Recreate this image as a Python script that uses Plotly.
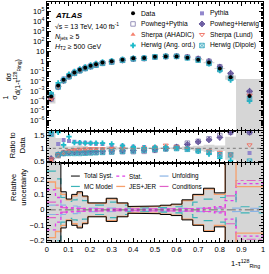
import numpy as np
import plotly.graph_objects as go

# ---------------- values ----------------
bin_edges = [0, 0.04, 0.065, 0.09, 0.115, 0.14, 0.165, 0.19, 0.215, 0.24, 0.275,
             0.325, 0.375, 0.425, 0.475, 0.525, 0.575, 0.625, 0.675, 0.725, 0.775,
             0.825, 0.875, 1.0]

data_xsec = [2.8e-4, 3.5e-3, 0.014, 0.035, 0.076, 0.14, 0.23, 0.35, 0.5, 0.74,
             1.0, 1.45, 2.0, 2.2, 2.9, 3.15, 3.15, 2.3, 1.45, 0.74, 0.19, 0.025, 3.2e-4]

ratio_pythia = [1.55, 1.17, 1.32, 1.28, 1.25, 1.22, 1.22, 1.2, 1.18, 1.17, 1.13, 1.1,
                1.06, 1.05, 1.04, 1.02, 1.0, 0.97, 0.93, 0.82, 0.78, 0.75, 0.82]
ratio_powheg_pythia = [0.55, 0.72, 0.8, 0.83, 0.84, 0.84, 0.85, 0.85, 0.85, 0.86, 0.86, 0.87,
                       0.87, 0.88, 0.92, 0.98, 1.05, 1.2, 1.27, 1.37, 1.5, 1.62, 2.0]
ratio_powheg_herwig = [0.6, 0.75, 0.82, 0.85, 0.86, 0.87, 0.87, 0.88, 0.88, 0.89, 0.9, 0.9,
                       0.92, 0.93, 0.95, 1.0, 1.05, 1.15, 1.25, 1.33, 1.42, 2.5, 3.0]
ratio_sherpa_ahadic = [0.52, 0.68, 0.78, 0.88, 0.92, 0.93, 0.95, 0.96, 0.96, 0.97, 0.97, 0.98,
                       0.99, 1.0, 1.02, 1.08, 1.02, 0.98, 0.92, 0.88, 0.82, 0.72, 0.4]
ratio_sherpa_lund = [0.58, 0.75, 0.85, 0.9, 0.94, 0.96, 0.97, 0.98, 0.98, 0.98, 0.99, 1.0,
                     1.0, 1.01, 1.04, 1.12, 1.06, 1.0, 0.95, 0.9, 0.84, 0.78, 1.13]
ratio_herwig_ang = [1.9, 1.9, 1.13, 1.45, 1.22, 1.22, 1.2, 1.2, 1.2, 1.2, 1.17, 1.1,
                    1.05, 1.02, 1.04, 1.04, 1.0, 0.97, 0.88, 0.78, 0.62, 0.52, 0.3]
ratio_herwig_dipole = [1.55, 0.75, 0.8, 0.8, 0.8, 0.8, 0.81, 0.82, 0.83, 0.84, 0.86, 0.88,
                       0.9, 0.93, 0.96, 0.98, 0.99, 0.96, 0.9, 0.84, 0.75, 0.74, 0.5]

unc_total = [0.8, 0.4, 0.117, 0.07, 0.1, 0.117, 0.09, 0.045, 0.045, 0.045, 0.075, 0.045,
             0.022, 0.022, 0.025, 0.03, 0.037, 0.065, 0.1, 0.14, 0.11, 0.45, 50.0]
unc_stat = [0.13, 0.08, 0.02, 0.015, 0.012, 0.01, 0.008, 0.007, 0.006, 0.006, 0.005, 0.004,
            0.004, 0.004, 0.004, 0.004, 0.005, 0.006, 0.008, 0.012, 0.02, 0.06, 0.17]
unc_unfolding = [0.03, 0.055, 0.03, 0.02, 0.025, 0.02, 0.018, 0.012, 0.01, 0.01, 0.012, 0.01,
                 0.006, 0.006, 0.006, 0.008, 0.008, 0.01, 0.012, 0.01, 0.012, 0.01, 0.01]
unc_mc_model = [0.25, 0.2, 0.08, 0.055, 0.065, 0.08, 0.06, 0.03, 0.03, 0.03, 0.05, 0.03,
                0.012, 0.012, 0.012, 0.015, 0.02, 0.03, 0.05, 0.07, 0.08, 0.1, 0.02]
unc_jes_jer = [0.18, 0.14, 0.1, 0.065, 0.09, 0.11, 0.085, 0.042, 0.042, 0.042, 0.07, 0.042,
               0.02, 0.02, 0.022, 0.027, 0.034, 0.06, 0.095, 0.135, 0.1, 0.32, 0.15]
unc_conditions = [0.05, 0.03, 0.015, 0.01, 0.01, 0.01, 0.008, 0.006, 0.006, 0.006, 0.006, 0.005,
                  0.005, 0.005, 0.005, 0.005, 0.005, 0.006, 0.008, 0.01, 0.012, 0.09, 0.19]

top_ticks = [1e-6, 1e-5, 1e-4, 1e-3, 1e-2, 1e-1, 1, 10, 1e2, 1e3, 1e4, 1e5]
top_ticktext = ["10<sup>−6</sup>", "10<sup>−5</sup>", "10<sup>−4</sup>", "10<sup>−3</sup>",
                "10<sup>−2</sup>", "10<sup>−1</sup>", "1", "10", "10<sup>2</sup>",
                "10<sup>3</sup>", "10<sup>4</sup>", "10<sup>5</sup>"]

# ---------------- layout helpers ----------------
W, H = 269, 274
FONT = "Liberation Sans, Arial, sans-serif"
edges = np.array(bin_edges)
centers = 0.5 * (edges[:-1] + edges[1:])
dv = np.array(data_xsec)


def pxx(p):
    return p / W


def pyy(p):
    return 1 - p / H


def rects(lo, hi):
    xs, ys = [], []
    for i in range(len(lo)):
        x0, x1 = edges[i], edges[i + 1]
        xs += [x0, x1, x1, x0, x0, None]
        ys += [lo[i], lo[i], hi[i], hi[i], lo[i], None]
    return xs, ys


def steps(vals):
    return np.repeat(edges, 2)[1:-1], np.repeat(np.asarray(vals, float), 2)


fig = go.Figure()

GRAY = "#d6d6d6"
u = np.array(unc_total)
xs, ys = rects(np.maximum(dv * (1 - u), 1e-9), dv * (1 + u))
fig.add_trace(go.Scatter(x=xs, y=ys, fill="toself", fillcolor=GRAY, line=dict(width=0),
                         mode="lines", xaxis="x", yaxis="y", hoverinfo="skip"))
xs, ys = rects(1 - u, 1 + u)
fig.add_trace(go.Scatter(x=xs, y=ys, fill="toself", fillcolor=GRAY, line=dict(width=0),
                         mode="lines", xaxis="x2", yaxis="y2", hoverinfo="skip"))
xs, ys = rects(-u, u)
fig.add_trace(go.Scatter(x=xs, y=ys, fill="toself", fillcolor=GRAY, line=dict(width=0),
                         mode="lines", xaxis="x3", yaxis="y3", hoverinfo="skip"))

mc = [
    ("Pythia", ratio_pythia, dict(symbol="square", color="#9287cc", size=4)),
    ("Powheg+Pythia", ratio_powheg_pythia, dict(symbol="square-open", color="#8d88b4", size=4.5, line=dict(width=0.9))),
    ("Powheg+Herwig", ratio_powheg_herwig, dict(symbol="diamond-cross", color="#8a7cbc", size=4.5, line=dict(width=0.8, color="#5a4b92"))),
    ("Sherpa (AHADIC)", ratio_sherpa_ahadic, dict(symbol="triangle-up", color="#f5826f", size=4.5)),
    ("Sherpa (Lund)", ratio_sherpa_lund, dict(symbol="triangle-down-open", color="#ef6d5f", size=4.5, line=dict(width=0.9))),
    ("Herwig (Ang. ord.)", ratio_herwig_ang, dict(symbol="cross", color="#1bbac9", size=4.5)),
    ("Herwig (Dipole)", ratio_herwig_dipole, dict(symbol="square-x-open", color="#38a8be", size=4.5, line=dict(width=0.9))),
]

for name, r, mk in mc:
    r = np.array(r)
    fig.add_trace(go.Scatter(x=centers, y=dv * r, mode="markers", marker=mk,
                             xaxis="x", yaxis="y", name=name))
    fig.add_trace(go.Scatter(x=centers, y=np.minimum(r, 1.62), mode="markers", marker=mk,
                             xaxis="x2", yaxis="y2", name=name))

fig.add_trace(go.Scatter(x=centers, y=dv, mode="markers",
                         marker=dict(symbol="circle", color="black", size=4),
                         xaxis="x", yaxis="y", name="Data"))

comps = [
    ("Unfolding", unc_unfolding, dict(color="#8ab4e6", width=1.2, dash="dash")),
    ("Conditions", unc_conditions, dict(color="#e060c8", width=1.2, dash="dashdot")),
    ("Stat.", unc_stat, dict(color="#e040e8", width=1.3, dash="dot")),
    ("MC Model", unc_mc_model, dict(color="#3cb4b8", width=1.2, dash="dash")),
    ("JES+JER", unc_jes_jer, dict(color="#f7a06c", width=1.3)),
    ("Total Syst.", unc_total, dict(color="black", width=1)),
]
for name, vals, ln in comps:
    sx, sy = steps(vals)
    for sign in (1, -1):
        fig.add_trace(go.Scatter(x=sx, y=sign * sy, mode="lines", line=ln,
                                 xaxis="x3", yaxis="y3", name=name))

leg_top = [
    (133, 13.5, "Data", dict(symbol="circle", color="black", size=4)),
    (133, 24.2, "Powheg+Pythia", mc[1][2]),
    (133, 35.0, "Sherpa (AHADIC)", mc[3][2]),
    (133, 46.0, "Herwig (Ang. ord.)", mc[5][2]),
    (203, 13.5, "Pythia", mc[0][2]),
    (203, 24.2, "Powheg+Herwig", mc[2][2]),
    (203, 35.0, "Sherpa (Lund)", mc[4][2]),
    (203, 46.0, "Herwig (Dipole)", mc[6][2]),
]
annotations = []
for x, y, t, mk in leg_top:
    fig.add_trace(go.Scatter(x=[x], y=[y], mode="markers", marker=mk, xaxis="x4", yaxis="y4"))
    annotations.append(dict(x=pxx(x + 6), y=pyy(y), text=t, xref="paper", yref="paper",
                            showarrow=False, xanchor="left", yanchor="middle",
                            font=dict(size=6.7, family=FONT, color="black")))

leg_unc = [
    (70, 178, "Total Syst.", comps[5][2]),
    (116, 178, "Stat.", comps[2][2]),
    (160, 178, "Unfolding", comps[0][2]),
    (70, 188.5, "MC Model", comps[3][2]),
    (116, 188.5, "JES+JER", comps[4][2]),
    (160, 188.5, "Conditions", comps[1][2]),
]
for x, y, t, ln in leg_unc:
    fig.add_trace(go.Scatter(x=[x, x + 9], y=[y, y], mode="lines", line=ln, xaxis="x4", yaxis="y4"))
    annotations.append(dict(x=pxx(x + 11), y=pyy(y), text=t, xref="paper", yref="paper",
                            showarrow=False, xanchor="left", yanchor="middle",
                            font=dict(size=6.3, family=FONT, color="black")))

atl = [
    (15.5, "<b><i>ATLAS</i></b>", 8),
    (26.5, "√s = 13 TeV, 140 fb<sup>-1</sup>", 7),
    (37.5, "<i>N</i><sub>jets</sub> ≥ 5", 7),
    (48.0, "<i>H</i><sub>T2</sub> ≥ 500 GeV", 7),
]
for y, t, s in atl:
    annotations.append(dict(x=pxx(52), y=pyy(y), text=t, xref="paper", yref="paper",
                            showarrow=False, xanchor="left", yanchor="middle",
                            font=dict(size=s, family=FONT, color="black")))


def vtitle(x, y, text, size=7):
    annotations.append(dict(x=pxx(x), y=pyy(y), text=text, xref="paper", yref="paper",
                            showarrow=False, textangle=-90, xanchor="center", yanchor="middle",
                            font=dict(size=size, family=FONT, color="black")))


vtitle(8, 98, "1<br>σ", 7)
vtitle(12, 78, "dσ<br>d(1-τ<sup>128</sup><sub>Ring</sub>)", 7)
vtitle(16, 147, "Ratio to<br>Data", 7.5)
vtitle(17, 189, "Relative<br>uncertainty", 7.5)
annotations.append(dict(x=pxx(264), y=pyy(266), text="1-τ<sup>128</sup><sub>Ring</sub>",
                        xref="paper", yref="paper", showarrow=False, xanchor="right",
                        yanchor="middle", font=dict(size=7.5, family=FONT, color="black")))

shapes = [
    dict(type="line", xref="x2", yref="y2", x0=0, x1=1, y0=1, y1=1,
         line=dict(color="#8c8c8c", width=1.2, dash="dot")),
    dict(type="line", xref="x3", yref="y3", x0=0, x1=1, y0=0, y1=0,
         line=dict(color="#555555", width=0.8, dash="dashdot")),
]

xdom = [pxx(45.5), pxx(265)]
tick_common = dict(ticks="inside", ticklen=4, tickcolor="black", tickwidth=0.8,
                   showline=True, linecolor="black", linewidth=1, mirror="ticks",
                   showgrid=False, zeroline=False,
                   tickfont=dict(size=7.5, family=FONT, color="black"))


def xax(anchor, labels):
    d = dict(tick_common)
    d.update(domain=xdom, range=[0, 1], anchor=anchor, tickmode="array",
             tickvals=[i / 10 for i in range(11)],
             ticktext=["0", "0.1", "0.2", "0.3", "0.4", "0.5", "0.6", "0.7", "0.8", "0.9", "1"],
             showticklabels=labels,
             minor=dict(ticks="inside", ticklen=2, tickcolor="black", dtick=0.02, tick0=0))
    return d


minor_log = [k * 10.0 ** e for e in range(-7, 6) for k in range(2, 10)]

ya1 = dict(tick_common)
ya1.update(domain=[pyy(132), pyy(2)], type="log", range=[-7, 6], anchor="x",
           tickmode="array", tickvals=top_ticks, ticktext=top_ticktext,
           minor=dict(ticks="inside", ticklen=2, tickcolor="black", tickmode="array", tickvals=minor_log))
ya2 = dict(tick_common)
ya2.update(domain=[pyy(164.5), pyy(132)], range=[0.44, 1.69], anchor="x2",
           tickmode="array", tickvals=[0.5, 1, 1.5], ticktext=["0.5", "1", "1.5"],
           minor=dict(ticks="inside", ticklen=2, tickcolor="black", dtick=0.1, tick0=0))
ya3 = dict(tick_common)
ya3.update(domain=[pyy(245), pyy(164.5)], range=[-0.21, 0.305], anchor="x3",
           tickmode="array", tickvals=[-0.2, -0.1, 0, 0.1, 0.2],
           ticktext=["−0.2", "−0.1", "0", "0.1", "0.2"],
           minor=dict(ticks="inside", ticklen=2, tickcolor="black", dtick=0.02, tick0=0))

fig.update_layout(
    width=W, height=H, autosize=False,
    margin=dict(l=0, r=0, t=0, b=0),
    paper_bgcolor="white", plot_bgcolor="rgba(0,0,0,0)",
    showlegend=False,
    font=dict(family=FONT, size=7.5, color="black"),
    xaxis=xax("y", False), xaxis2=xax("y2", False), xaxis3=xax("y3", True),
    yaxis=ya1, yaxis2=ya2, yaxis3=ya3,
    xaxis4=dict(domain=[0, 1], range=[0, W], visible=False, fixedrange=True, anchor="y4"),
    yaxis4=dict(domain=[0, 1], range=[H, 0], visible=False, fixedrange=True, anchor="x4"),
    annotations=annotations, shapes=shapes,
)

fig.write_html("out.html", config={"displayModeBar": False},
               post_script="document.body.style.margin='0';document.body.style.padding='0';")
